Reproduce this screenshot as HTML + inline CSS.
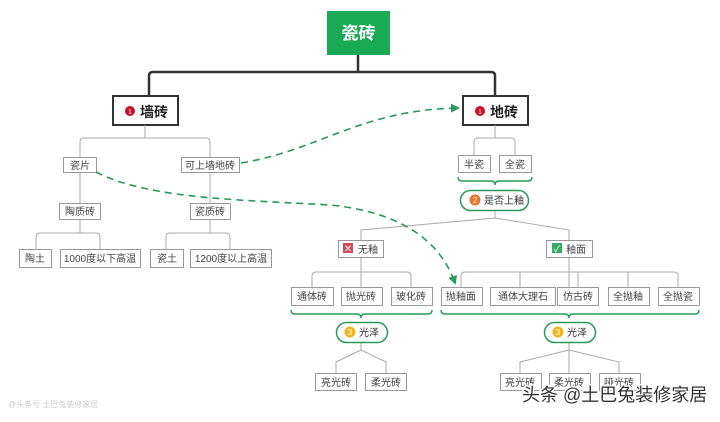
<!DOCTYPE html>
<html><head><meta charset="utf-8"><style>
body{margin:0;background:#fff;width:720px;height:417px;overflow:hidden;font-family:"Liberation Sans","Noto Sans CJK SC",sans-serif}
</style></head><body>
<svg width="720" height="417" viewBox="0 0 720 417" xmlns="http://www.w3.org/2000/svg" font-family="Liberation Sans, Noto Sans CJK SC, sans-serif">
<defs><marker id="ar" markerWidth="9" markerHeight="9" refX="7" refY="4.5" orient="auto" markerUnits="userSpaceOnUse"><path d="M0,0 L9,4.5 L0,9 z" fill="#2a9a5a"/></marker></defs>
<rect x="327" y="11" width="63" height="44" fill="#1aaa55"/>
<text x="358.5" y="39" font-size="17" font-weight="bold" fill="#fff" text-anchor="middle">瓷砖</text>
<path d="M358 55 V72 M149 95 V76 Q149 72 153 72 H491 Q495 72 495 76 V95" stroke="#333" stroke-width="2.5" fill="none"/>
<rect x="113" y="96" width="65" height="29" fill="#fff" stroke="#333" stroke-width="2"/>
<circle cx="130" cy="111" r="5" fill="#c8102e"/><text x="130" y="114" font-size="7" fill="#fff" text-anchor="middle">1</text>
<text x="140" y="117" font-size="14" font-weight="bold" fill="#222">墙砖</text>
<rect x="463" y="96" width="65" height="29" fill="#fff" stroke="#333" stroke-width="2"/>
<circle cx="480" cy="111" r="5" fill="#c8102e"/><text x="480" y="114" font-size="7" fill="#fff" text-anchor="middle">1</text>
<text x="490" y="117" font-size="14" font-weight="bold" fill="#222">地砖</text>
<g stroke="#aaa" stroke-width="1" fill="none">
<path d="M145 125 V138 M80 157 V142 Q80 138 84 138 H206 Q210 138 210 142 V157"/>
<path d="M80 172 V203 M80 219 V233 M36 249 V237 Q36 233 40 233 H96 Q100 233 100 237 V249"/>
<path d="M210 172 V203 M210 219 V233 M166 249 V237 Q166 233 170 233 H226 Q230 233 230 237 V249"/>
<path d="M495 125 V138 M474 155 V142 Q474 138 478 138 H511 Q515 138 515 142 V155"/>
<path d="M495 210 V218 L361 230 V240 M495 218 L569 230 V240"/>
<path d="M361 257 V287 M312 287 V276 Q312 272 316 272 H407 Q411 272 411 276 V287"/>
<path d="M569 257 V287 M461 287 V276 Q461 272 465 272 H674 Q678 272 678 276 V287 M520 287 V272 M578 287 V272 M628 287 V272"/>
<path d="M361 342 V350 L336 362 V373 M361 350 L386 362 V373"/>
<path d="M569 342 V350 L520 362 V373 M569 350 V373 M569 350 L619 362 V373"/>
</g>
<g font-size="10" fill="#444" text-anchor="middle">
<g fill="#fff" stroke="#999" stroke-width="1">
<rect x="63.5" y="157.5" width="33" height="15"/><rect x="181.5" y="157.5" width="58" height="15"/>
<rect x="59.5" y="203.5" width="41" height="16"/><rect x="190.5" y="203.5" width="40" height="16"/>
<rect x="19.5" y="249.5" width="32" height="18"/><rect x="60.5" y="249.5" width="80" height="18"/>
<rect x="150.5" y="249.5" width="33" height="18"/><rect x="190.5" y="249.5" width="81" height="18"/>
<rect x="458.5" y="155.5" width="32" height="17"/><rect x="499.5" y="155.5" width="32" height="17"/>
<rect x="338.5" y="240.5" width="45" height="17"/><rect x="546.5" y="240.5" width="46" height="17"/>
<rect x="291.5" y="287.5" width="42" height="18"/><rect x="341.5" y="287.5" width="41" height="18"/><rect x="391.5" y="287.5" width="41" height="18"/>
<rect x="441.5" y="287.5" width="41" height="18"/><rect x="490.5" y="287.5" width="65" height="18"/><rect x="557.5" y="287.5" width="41" height="18"/><rect x="608.5" y="287.5" width="41" height="18"/><rect x="658.5" y="287.5" width="41" height="18"/>
<rect x="315.5" y="373.5" width="41" height="17"/><rect x="365.5" y="373.5" width="41" height="17"/>
<rect x="500.5" y="373.5" width="41" height="17"/><rect x="549.5" y="373.5" width="41" height="17"/><rect x="599.5" y="373.5" width="41" height="17"/>
</g>
<text x="80" y="169">瓷片</text><text x="210" y="169">可上墙地砖</text>
<text x="80" y="215">陶质砖</text><text x="210" y="215">瓷质砖</text>
<text x="35" y="262">陶土</text><text x="100" y="262">1000度以下高温</text>
<text x="167" y="262">瓷土</text><text x="231" y="262">1200度以上高温</text>
<text x="474" y="168">半瓷</text><text x="515" y="168">全瓷</text>
<text x="368" y="253">无釉</text><text x="576" y="253">釉面</text>
<text x="312" y="300">通体砖</text><text x="361" y="300">抛光砖</text><text x="411" y="300">玻化砖</text>
<text x="461" y="300">抛釉面</text><text x="523" y="300">通体大理石</text><text x="578" y="300">仿古砖</text><text x="628" y="300">全抛釉</text><text x="678" y="300">全抛瓷</text>
<text x="336" y="386">亮光砖</text><text x="386" y="386">柔光砖</text>
<text x="520" y="386">亮光砖</text><text x="569" y="386">柔光砖</text><text x="619" y="386">哑光砖</text>
</g>
<rect x="343" y="243" width="10" height="10" fill="#d04a5a"/><text x="348" y="252" font-size="10" fill="#fff" text-anchor="middle">✕</text>
<rect x="552" y="243" width="10" height="10" fill="#3aa865"/><text x="557" y="252" font-size="9" fill="#fff" text-anchor="middle">✓</text>
<g stroke="#2a9a5a" stroke-width="1.5" fill="none">
<path d="M458 177 Q458 181 462 181 H491 Q495 181 495 185 Q495 181 499 181 H528 Q532 181 532 177"/>
<path d="M291 310 Q291 314 295 314 H357 Q361 314 361 318 Q361 314 365 314 H428 Q432 314 432 310"/>
<path d="M441 310 Q441 314 445 314 H565 Q569 314 569 318 Q569 314 573 314 H695 Q699 314 699 310"/>
<rect x="460.5" y="190.5" width="68" height="20" rx="10" fill="#fff"/>
<rect x="336.5" y="322.5" width="51" height="20" rx="10" fill="#fff"/>
<rect x="544.5" y="322.5" width="51" height="20" rx="10" fill="#fff"/>
</g>
<circle cx="475" cy="200" r="5.5" fill="#e8742a"/><text x="475" y="203" font-size="8" fill="#fff" text-anchor="middle">2</text>
<text x="484" y="204" font-size="10" fill="#333">是否上釉</text>
<circle cx="350" cy="332" r="5.5" fill="#f5b41e"/><text x="350" y="335" font-size="8" fill="#fff" text-anchor="middle">3</text>
<text x="359" y="336" font-size="10" fill="#333">光泽</text>
<circle cx="558" cy="332" r="5.5" fill="#f5b41e"/><text x="558" y="335" font-size="8" fill="#fff" text-anchor="middle">3</text>
<text x="567" y="336" font-size="10" fill="#333">光泽</text>
<g stroke="#2a9a5a" stroke-width="1.6" fill="none" stroke-dasharray="7,5">
<path d="M241 163 C320 150 360 110 458 108" marker-end="url(#ar)"/>
<path d="M96 172 C150 200 250 200 330 205 C400 212 440 240 455 283" marker-end="url(#ar)"/>
</g>
<text x="8" y="407" font-size="8" fill="#ccc">@头条号 土巴兔装修家居</text>
<text x="522" y="401" font-size="18" fill="#333" stroke="#fff" stroke-width="3" paint-order="stroke">头条 @土巴兔装修家居</text>
</svg>
</body></html>
